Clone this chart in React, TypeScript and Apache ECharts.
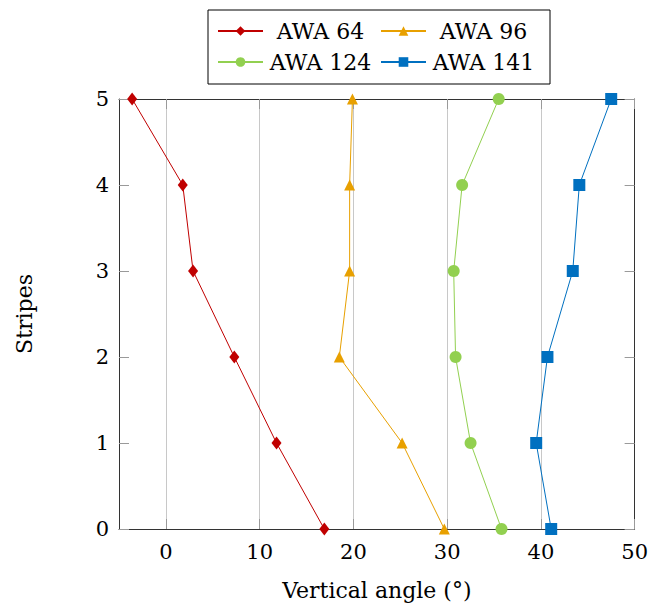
import React, { useEffect, useRef } from "react";
import * as echarts from "echarts";

const stripes = [0, 1, 2, 3, 4, 5];
const awa64 = [16.9, 11.8, 7.3, 2.9, 1.8, -3.6];
const awa96 = [29.7, 25.2, 18.5, 19.6, 19.6, 19.9];
const awa124 = [35.8, 32.5, 30.9, 30.7, 31.6, 35.5];
const awa141 = [41.1, 39.5, 40.7, 43.4, 44.1, 47.5];
const xTicks = [0, 10, 20, 30, 40, 50];

const seriesNames = ["AWA 64", "AWA 96", "AWA 124", "AWA 141"];
const seriesValues = [awa64, awa96, awa124, awa141];
const colors = ["#C00000", "#E8A000", "#92D050", "#0070C0"];
const symbols = ["diamond", "triangle", "circle", "rect"];
const symbolSizes: any[] = [[10, 13], 11, 12, 12];

const FONT = "DejaVu Serif";

export default function App() {
  const ref = useRef<HTMLDivElement>(null);
  useEffect(() => {
    if (!ref.current) return;
    const chart = echarts.init(ref.current, null, { renderer: "svg" });
    const tickStyle = { show: true, inside: true, length: 10, lineStyle: { color: "#9a9a9a", width: 1 } };
    const frameLine = { show: true, onZero: false, lineStyle: { color: "#333", width: 1 } };
    chart.setOption({
      animation: false,
      textStyle: { fontFamily: FONT },
      grid: { left: 119, right: 14, top: 99, bottom: 77 },
      legend: {
        data: seriesNames,
        left: 208,
        top: 10,
        width: 320,
        padding: [9, 14, 10, 9],
        borderColor: "#000",
        borderWidth: 1,
        itemGap: 7,
        itemWidth: 45,
        itemHeight: 12,
        formatter: (n: string) => "{a|" + n + "}",
        textStyle: {
          fontFamily: FONT,
          fontSize: 22,
          color: "#000",
          rich: { a: { width: 105, height: 24, lineHeight: 24, align: "center", fontFamily: FONT, fontSize: 22, color: "#000" } },
        },
      },
      xAxis: [
        {
          type: "value",
          min: -5,
          max: 50,
          position: "bottom",
          name: "Vertical angle (°)",
          nameLocation: "middle",
          nameGap: 50,
          nameTextStyle: { fontFamily: FONT, fontSize: 22, color: "#000" },
          axisLine: frameLine,
          axisTick: { ...tickStyle, customValues: xTicks },
          axisLabel: { customValues: xTicks, margin: 12, fontFamily: FONT, fontSize: 21, color: "#000" },
          splitLine: { show: true, lineStyle: { color: "#c8c8c8", width: 1 } },
        },
        {
          type: "value",
          min: -5,
          max: 50,
          position: "top",
          axisLine: frameLine,
          axisTick: { ...tickStyle, customValues: xTicks },
          axisLabel: { show: false },
          splitLine: { show: false },
        },
      ],
      yAxis: [
        {
          type: "value",
          min: 0,
          max: 5,
          interval: 1,
          position: "left",
          name: "Stripes",
          nameLocation: "middle",
          nameGap: 84,
          nameTextStyle: { fontFamily: FONT, fontSize: 22, color: "#000" },
          axisLine: frameLine,
          axisTick: tickStyle,
          axisLabel: { margin: 10, fontFamily: FONT, fontSize: 21, color: "#000" },
          splitLine: { show: false },
        },
        {
          type: "value",
          min: 0,
          max: 5,
          interval: 1,
          position: "right",
          axisLine: frameLine,
          axisTick: tickStyle,
          axisLabel: { show: false },
          splitLine: { show: false },
        },
      ],
      series: seriesNames.map((name, i) => ({
        name,
        type: "line",
        xAxisIndex: 0,
        yAxisIndex: 0,
        data: seriesValues[i].map((v, j) => [v, stripes[j]]),
        symbol: symbols[i],
        symbolSize: symbolSizes[i],
        showAllSymbol: true,
        clip: false,
        color: colors[i],
        itemStyle: { color: colors[i] },
        lineStyle: { color: colors[i], width: 1 },
      })),
    });
    return () => chart.dispose();
  }, []);
  return <div ref={ref} style={{ width: 651, height: 606, position: "absolute", left: 0, top: 0 }} />;
}
